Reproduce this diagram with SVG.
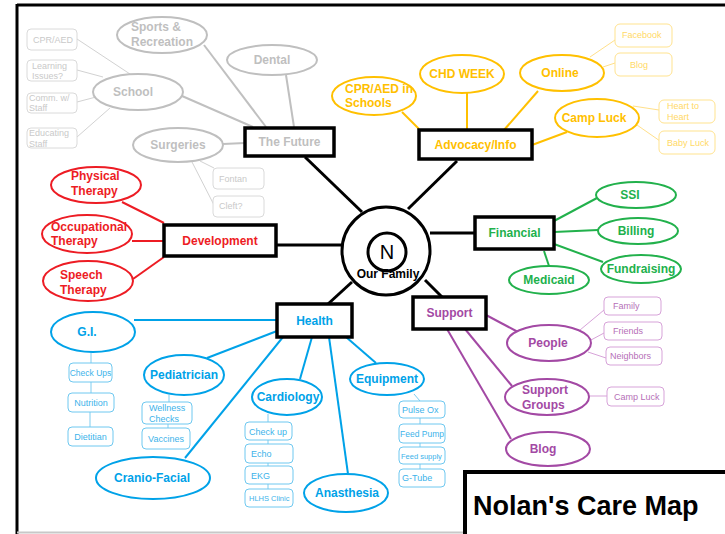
<svg xmlns="http://www.w3.org/2000/svg" width="725" height="534" viewBox="0 0 725 534">
<style>
text{font-family:"Liberation Sans",Arial,sans-serif}
.b{font-weight:bold;font-size:12px}
.s{font-size:9px}
.m{text-anchor:middle}
.box{fill:#fff;stroke:#000;stroke-width:3.5}
.gE{fill:#fff;stroke:#bfbfbf;stroke-width:2}
.gS{fill:#fff;stroke:#dadada;stroke-width:1}
.gT{fill:#bfbfbf}.gt{fill:#c9c9c9}
.rE{fill:#fff;stroke:#ed1c24;stroke-width:2}.rT{fill:#ed1c24}
.yE{fill:#fff;stroke:#ffc000;stroke-width:2}.yS{fill:#fff;stroke:#ffe38f;stroke-width:1}
.yT{fill:#ffc000}.yt{fill:#ffd966}
.nE{fill:#fff;stroke:#22b14c;stroke-width:2}.nT{fill:#22b14c}
.pE{fill:#fff;stroke:#a349a4;stroke-width:2}.pS{fill:#fff;stroke:#d7a3d9;stroke-width:1}
.pT{fill:#a349a4}.pt{fill:#b66fb8}
.bE{fill:#fff;stroke:#00a2e8;stroke-width:2}.bS{fill:#fff;stroke:#6fc8f0;stroke-width:1}
.bT{fill:#00a2e8}.bt{fill:#3db3ea}
.k{stroke:#000;stroke-width:3}
.gl{stroke:#c0c0c0;stroke-width:2}.gl1{stroke:#d2d2d2;stroke-width:1}
.rl{stroke:#ed1c24;stroke-width:2}
.yl{stroke:#ffc000;stroke-width:2}.yl1{stroke:#ffe08a;stroke-width:1}
.nl{stroke:#22b14c;stroke-width:2}
.pl{stroke:#a349a4;stroke-width:2}.pl1{stroke:#d7a3d9;stroke-width:1}
.bl{stroke:#00a2e8;stroke-width:2}.bl1{stroke:#7fcdf0;stroke-width:1}
</style>
<rect width="725" height="534" fill="#fff"/>
<g id="frame" fill="none">
<line x1="17" y1="5" x2="725" y2="5" stroke="#000" stroke-width="3"/>
<line x1="17" y1="4" x2="17" y2="534" stroke="#000" stroke-width="3"/>
<line x1="17" y1="532.5" x2="725" y2="532.5" stroke="#c8c8c8" stroke-width="2"/>
</g>
<g id="connectors" fill="none">
<line class="k" x1="305" y1="157" x2="362" y2="212"/>
<line class="k" x1="457" y1="161" x2="408" y2="209"/>
<line class="k" x1="276" y1="245" x2="342" y2="245"/>
<line class="k" x1="430" y1="233" x2="475" y2="233"/>
<line class="k" x1="328" y1="304" x2="352" y2="282"/>
<line class="k" x1="425" y1="280" x2="442" y2="297"/>
<line class="gl" x1="182" y1="96" x2="253" y2="127"/>
<line class="gl" x1="204" y1="45" x2="266" y2="127"/>
<line class="gl" x1="286" y1="75" x2="294" y2="127"/>
<line class="gl" x1="223" y1="144" x2="245" y2="143"/>
<line class="gl1" x1="77" y1="39" x2="130" y2="74"/>
<line class="gl1" x1="77" y1="70" x2="103" y2="77"/>
<line class="gl1" x1="77" y1="102" x2="96" y2="97"/>
<line class="gl1" x1="77" y1="137" x2="110" y2="108"/>
<line class="gl1" x1="200" y1="161" x2="214" y2="168"/>
<line class="gl1" x1="192" y1="162" x2="214" y2="205"/>
<line class="rl" x1="122" y1="202" x2="164" y2="223"/>
<line class="rl" x1="132" y1="241" x2="164" y2="241"/>
<line class="rl" x1="133" y1="279" x2="164" y2="257"/>
<line class="yl" x1="402" y1="112" x2="419" y2="129"/>
<line class="yl" x1="467" y1="93" x2="467" y2="130"/>
<line class="yl" x1="538" y1="91" x2="504" y2="130"/>
<line class="yl" x1="567" y1="132" x2="532" y2="145"/>
<line class="yl1" x1="590" y1="57" x2="615" y2="40"/>
<line class="yl1" x1="603" y1="67" x2="615" y2="63"/>
<line class="yl1" x1="633" y1="106" x2="659" y2="110"/>
<line class="yl1" x1="637" y1="125" x2="660" y2="141"/>
<line class="nl" x1="554" y1="221" x2="597" y2="198"/>
<line class="nl" x1="554" y1="232" x2="598" y2="230"/>
<line class="nl" x1="554" y1="244" x2="603" y2="262"/>
<line class="nl" x1="544" y1="251" x2="549" y2="266"/>
<line class="pl" x1="486" y1="315" x2="518" y2="332"/>
<line class="pl" x1="465" y1="329" x2="512" y2="386"/>
<line class="pl" x1="447" y1="329" x2="511" y2="439"/>
<line class="pl1" x1="580" y1="330" x2="604" y2="310"/>
<line class="pl1" x1="591" y1="340" x2="604" y2="333"/>
<line class="pl1" x1="588" y1="352" x2="606" y2="358"/>
<line class="pl1" x1="589" y1="396" x2="607" y2="396"/>
<line class="bl" x1="134" y1="320" x2="277" y2="320"/>
<line class="bl" x1="207" y1="358" x2="277" y2="331"/>
<line class="bl" x1="185" y1="458" x2="283" y2="337"/>
<line class="bl" x1="300" y1="379" x2="312" y2="337"/>
<line class="bl" x1="348" y1="474" x2="329" y2="337"/>
<line class="bl" x1="376" y1="363" x2="346" y2="337"/>
<line class="bl1" x1="91" y1="352" x2="91" y2="363"/>
<line class="bl1" x1="91" y1="382" x2="91" y2="393"/>
<line class="bl1" x1="90" y1="412" x2="90" y2="427"/>
<line class="bl1" x1="169" y1="395" x2="169" y2="402"/>
<line class="bl1" x1="168" y1="424" x2="168" y2="428"/>
<line class="bl1" x1="268" y1="414" x2="268" y2="422"/>
<line class="bl1" x1="268" y1="440" x2="268" y2="444"/>
<line class="bl1" x1="268" y1="463" x2="268" y2="466"/>
<line class="bl1" x1="268" y1="484" x2="268" y2="489"/>
<line class="bl1" x1="414" y1="394" x2="420" y2="401"/>
<line class="bl1" x1="420" y1="418" x2="420" y2="424"/>
<line class="bl1" x1="420" y1="443" x2="420" y2="447"/>
<line class="bl1" x1="420" y1="464" x2="420" y2="469"/>
</g>
<g id="center">
<circle cx="386" cy="251" r="44" fill="#fff" stroke="#000" stroke-width="3"/>
<circle cx="387" cy="252" r="19" fill="#fff" stroke="#000" stroke-width="3"/>
<text x="387" y="259" class="m" font-size="20">N</text>
<text x="388" y="278" class="b m" font-size="11.5px">Our Family</text>
</g>
<g id="the-future"><rect class="box" x="245" y="128" width="89" height="28"/><text x="289.5" y="146" class="b m gT">The Future</text></g>
<g id="advocacy"><rect class="box" x="419" y="130" width="113" height="29"/><text x="475.5" y="149" class="b m yT">Advocacy/Info</text></g>
<g id="development"><rect class="box" x="164" y="225" width="112" height="31"/><text x="220" y="245" class="b m rT">Development</text></g>
<g id="financial"><rect class="box" x="475" y="217" width="79" height="32"/><text x="514.5" y="237" class="b m nT">Financial</text></g>
<g id="health"><rect class="box" x="277" y="304" width="75" height="33"/><text x="314.5" y="325" class="b m bT">Health</text></g>
<g id="support"><rect class="box" x="413" y="297" width="73" height="32"/><text x="449.5" y="317" class="b m pT">Support</text></g>
<g id="title"><rect x="465" y="472" width="275" height="75" fill="#fff" stroke="#000" stroke-width="4"/><text x="473" y="515" font-size="27px" font-weight="bold">Nolan's Care Map</text></g>
<g id="sports"><ellipse class="gE" cx="162" cy="35" rx="45" ry="18"/><text x="131" y="31" class="b gT">Sports &amp;</text><text x="131" y="46" class="b gT">Recreation</text></g>
<g id="dental"><ellipse class="gE" cx="272" cy="60" rx="45" ry="15"/><text x="272" y="64" class="b m gT">Dental</text></g>
<g id="school"><ellipse class="gE" cx="138" cy="92" rx="45" ry="18"/><text x="133" y="96" class="b m gT">School</text></g>
<g id="surgeries"><ellipse class="gE" cx="178" cy="145" rx="45" ry="17"/><text x="178" y="149" class="b m gT">Surgeries</text></g>
<g id="cpr-aed"><rect class="gS" x="27" y="29" width="50" height="21" rx="4"/><text x="33" y="43" class="s gt">CPR/AED</text></g>
<g id="learning"><rect class="gS" x="27" y="60" width="50" height="21" rx="4"/><text x="32" y="69" class="s gt">Learning</text><text x="32" y="79" class="s gt">Issues?</text></g>
<g id="comm"><rect class="gS" x="27" y="93" width="50" height="20" rx="4"/><text x="29" y="101" class="s gt">Comm. w/</text><text x="29" y="111" class="s gt">Staff</text></g>
<g id="educating"><rect class="gS" x="27" y="128" width="50" height="20" rx="4"/><text x="29" y="136" class="s gt">Educating</text><text x="29" y="147" class="s gt">Staff</text></g>
<g id="fontan"><rect class="gS" x="213" y="168" width="51" height="21" rx="4"/><text x="219" y="182" class="s gt">Fontan</text></g>
<g id="cleft"><rect class="gS" x="213" y="196" width="51" height="21" rx="4"/><text x="219" y="209" class="s gt">Cleft?</text></g>
<g id="physical"><ellipse class="rE" cx="96" cy="185" rx="45" ry="18"/><text x="71" y="180" class="b rT">Physical</text><text x="71" y="195" class="b rT">Therapy</text></g>
<g id="occupational"><ellipse class="rE" cx="87" cy="234" rx="45" ry="19"/><text x="51" y="231" class="b rT" font-size="11.5px">Occupational</text><text x="51" y="245" class="b rT">Therapy</text></g>
<g id="speech"><ellipse class="rE" cx="88" cy="281" rx="45" ry="20"/><text x="60" y="279" class="b rT">Speech</text><text x="60" y="294" class="b rT">Therapy</text></g>
<g id="cpr-schools"><ellipse class="yE" cx="374" cy="96" rx="42" ry="19"/><text x="345" y="93" class="b yT" font-size="11px">CPR/AED in</text><text x="345" y="107" class="b yT" font-size="11px">Schools</text></g>
<g id="chd-week"><ellipse class="yE" cx="462" cy="74" rx="42" ry="19"/><text x="462" y="78" class="b m yT">CHD WEEK</text></g>
<g id="online"><ellipse class="yE" cx="562" cy="73" rx="42" ry="18"/><text x="560" y="77" class="b m yT">Online</text></g>
<g id="camp-luck"><ellipse class="yE" cx="597" cy="118" rx="42" ry="19"/><text x="594" y="122" class="b m yT">Camp Luck</text></g>
<g id="facebook"><rect class="yS" x="615" y="24" width="57" height="23" rx="5"/><text x="622" y="38" class="s yt">Facebook</text></g>
<g id="blog-online"><rect class="yS" x="615" y="53" width="57" height="23" rx="5"/><text x="630" y="68" class="s yt">Blog</text></g>
<g id="heart"><rect class="yS" x="659" y="100" width="56" height="23" rx="5"/><text x="667" y="109" class="s yt">Heart to</text><text x="667" y="120" class="s yt">Heart</text></g>
<g id="baby-luck"><rect class="yS" x="659" y="131" width="56" height="23" rx="5"/><text x="667" y="146" class="s yt">Baby Luck</text></g>
<g id="ssi"><ellipse class="nE" cx="636" cy="195" rx="40" ry="13"/><text x="630" y="199" class="b m nT">SSI</text></g>
<g id="billing"><ellipse class="nE" cx="638" cy="231" rx="40" ry="13"/><text x="636" y="235" class="b m nT">Billing</text></g>
<g id="fundraising"><ellipse class="nE" cx="641" cy="269" rx="40" ry="14"/><text x="641" y="273" class="b m nT">Fundraising</text></g>
<g id="medicaid"><ellipse class="nE" cx="549" cy="280" rx="40" ry="14"/><text x="549" y="284" class="b m nT">Medicaid</text></g>
<g id="people"><ellipse class="pE" cx="549" cy="343" rx="42" ry="18"/><text x="548" y="347" class="b m pT">People</text></g>
<g id="support-groups"><ellipse class="pE" cx="547" cy="397" rx="42" ry="18"/><text x="522" y="394" class="b pT">Support</text><text x="522" y="409" class="b pT">Groups</text></g>
<g id="blog-support"><ellipse class="pE" cx="548" cy="449" rx="42" ry="17"/><text x="543" y="453" class="b m pT">Blog</text></g>
<g id="family"><rect class="pS" x="604" y="297" width="57" height="18" rx="4"/><text x="613" y="309" class="s pt">Family</text></g>
<g id="friends"><rect class="pS" x="604" y="322" width="58" height="18" rx="4"/><text x="613" y="334" class="s pt">Friends</text></g>
<g id="neighbors"><rect class="pS" x="606" y="347" width="56" height="18" rx="4"/><text x="610" y="359" class="s pt">Neighbors</text></g>
<g id="camp-luck-support"><rect class="pS" x="607" y="387" width="57" height="19" rx="4"/><text x="614" y="400" class="s pt">Camp Luck</text></g>
<g id="gi"><ellipse class="bE" cx="93" cy="332" rx="42" ry="20"/><text x="87" y="336" class="b m bT">G.I.</text></g>
<g id="pediatrician"><ellipse class="bE" cx="184" cy="375" rx="40" ry="20"/><text x="184" y="379" class="b m bT" font-size="11.5px">Pediatrician</text></g>
<g id="cranio-facial"><ellipse class="bE" cx="153" cy="478" rx="57" ry="21"/><text x="152" y="482" class="b m bT">Cranio-Facial</text></g>
<g id="cardiology"><ellipse class="bE" cx="287" cy="397" rx="35" ry="18"/><text x="288" y="401" class="b m bT" font-size="11.5px">Cardiology</text></g>
<g id="equipment"><ellipse class="bE" cx="387" cy="379" rx="37" ry="16"/><text x="387" y="383" class="b m bT">Equipment</text></g>
<g id="anasthesia"><ellipse class="bE" cx="346" cy="493" rx="42" ry="19"/><text x="347" y="497" class="b m bT">Anasthesia</text></g>
<g id="check-ups"><rect class="bS" x="69" y="363" width="43" height="19" rx="4"/><text x="90.5" y="376" class="m bt" font-size="8.5px">Check Ups</text></g>
<g id="nutrition"><rect class="bS" x="68" y="393" width="46" height="19" rx="4"/><text x="91" y="406" class="m s bt">Nutrition</text></g>
<g id="dietitian"><rect class="bS" x="68" y="427" width="45" height="19" rx="4"/><text x="90.5" y="440" class="m s bt">Dietitian</text></g>
<g id="wellness"><rect class="bS" x="142" y="402" width="50" height="22" rx="4"/><text x="149" y="411" class="s bt">Wellness</text><text x="149" y="422" class="s bt">Checks</text></g>
<g id="vaccines"><rect class="bS" x="142" y="428" width="48" height="21" rx="4"/><text x="166" y="442" class="m s bt">Vaccines</text></g>
<g id="check-up"><rect class="bS" x="245" y="422" width="47" height="18" rx="4"/><text x="249" y="435" class="s bt">Check up</text></g>
<g id="echo"><rect class="bS" x="245" y="444" width="48" height="19" rx="4"/><text x="251" y="457" class="s bt">Echo</text></g>
<g id="ekg"><rect class="bS" x="245" y="466" width="48" height="18" rx="4"/><text x="251" y="479" class="s bt">EKG</text></g>
<g id="hlhs"><rect class="bS" x="245" y="489" width="48" height="18" rx="4"/><text x="249" y="501" class="bt" font-size="7.5px">HLHS Clinic</text></g>
<g id="pulse-ox"><rect class="bS" x="399" y="401" width="46" height="17" rx="4"/><text x="402" y="413" class="s bt">Pulse Ox</text></g>
<g id="feed-pump"><rect class="bS" x="399" y="424" width="46" height="19" rx="4"/><text x="400" y="437" class="bt" font-size="8.5px">Feed Pump</text></g>
<g id="feed-supply"><rect class="bS" x="399" y="447" width="46" height="17" rx="4"/><text x="401" y="459" class="bt" font-size="7.5px">Feed supply</text></g>
<g id="g-tube"><rect class="bS" x="399" y="469" width="46" height="18" rx="4"/><text x="402" y="481" class="s bt">G-Tube</text></g>
</svg>
